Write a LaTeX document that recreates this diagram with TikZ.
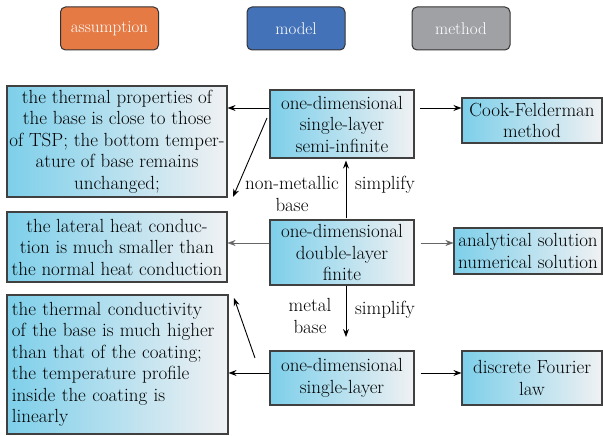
\documentclass[tikz,border=0pt]{standalone}
\usetikzlibrary{arrows.meta,calc}
\definecolor{hdrorange}{HTML}{E57A44}
\definecolor{hdrblue}{HTML}{4472B8}
\definecolor{hdrgray}{HTML}{A0A1A5}
\definecolor{boxcyan}{HTML}{7DCFEA}
\definecolor{boxwhite}{HTML}{F0F1F3}
\begin{document}
\begin{tikzpicture}[x=1pt,y=-1pt,
  every node/.style={font=\fontsize{19}{21.5}\selectfont},
  hdr/.style={draw=black!80, line width=1pt, rounded corners=5pt, text=white,
    minimum width=98pt, minimum height=43pt, inner sep=0pt,
    font=\fontsize{17}{21}\selectfont},
  card/.style={draw=black!75, line width=1.1pt, left color=boxcyan,
    right color=boxwhite, inner sep=0pt, align=center},
  link/.style={-{Stealth[length=8pt,width=6pt]}, line width=0.9pt},
  faintlink/.style={-{Stealth[length=8pt,width=6pt]}, line width=0.5pt, draw=black!60},
  lbl/.style={inner sep=0pt, align=center}
]
\useasboundingbox (0,0) rectangle (603,436);

% column headers
\node[hdr, fill=hdrorange] (hA) at (109.5,28.5) {assumption};
\node[hdr, fill=hdrblue]   (hM) at (296,28.5) {model};
\node[hdr, fill=hdrgray]   (hT) at (461,28.5) {method};

% assumptions
\node[card, minimum width=220pt, minimum height=111pt] (L1) at (117,141.5)
  {the thermal properties of\\the base is close to those\\of TSP; the bottom temper-\\ature of base remains\\unchanged;};
\node[card, minimum width=220pt, minimum height=70pt] (L2) at (117,247)
  {the lateral heat conduc-\\tion is much smaller than\\the normal heat conduction};
\node[card, minimum width=221pt, minimum height=139pt, align=left,
  text width=211pt] (L3) at (117.5,364.5)
  {the thermal conductivity\\of the base is much higher\\than that of the coating;\\the temperature profile\\inside the coating is\\linearly};

% models
\node[card, minimum width=144pt, minimum height=68pt] (M1) at (342,124)
  {one-dimensional\\single-layer\\semi-infinite};
\node[card, minimum width=144pt, minimum height=65pt] (M2) at (342,252.5)
  {one-dimensional\\double-layer\\finite};
\node[card, minimum width=144pt, minimum height=54pt] (M3) at (342,378)
  {one-dimensional\\single-layer};

% methods
\node[card, minimum width=140pt, minimum height=45pt] (T1) at (532,120.5)
  {Cook-Felderman\\method};
\node[card, minimum width=148pt, minimum height=46pt] (T2) at (528,251)
  {analytical solution\\numerical solution};
\node[card, minimum width=140pt, minimum height=54pt] (T3) at (532,378)
  {discrete Fourier\\law};

% horizontal connectors
\draw[link] ([yshift=16pt]M1.west) -- ([yshift=16pt]M1.west -| L1.east);
\draw[link, shorten <=5pt] ([yshift=16pt]M1.east) -- ([yshift=16pt]M1.east -| T1.west);
\draw[faintlink] ([yshift=9.5pt]M2.west) -- ([yshift=9.5pt]M2.west -| L2.east);
\draw[faintlink, shorten <=6pt] ([yshift=9.5pt]M2.east) -- ([yshift=9.5pt]M2.east -| T2.west);
\draw[link] ([yshift=5pt]M3.west) -- ([yshift=5pt]M3.west -| L3.east);
\draw[link, shorten <=6pt] ([yshift=5pt]M3.east) -- ([yshift=5pt]M3.east -| T3.west);

% simplification paths
\coordinate (d1s) at (267,118);
\coordinate (d1e) at (233,197);
\draw[link] (d1s) -- (d1e);
\coordinate (d2s) at (255,358);
\coordinate (d2e) at (234,298);
\draw[link] (d2s) -- (d2e);

\draw[link, shorten <=1pt, shorten >=2pt] ([xshift=4pt]M2.north) -- ([xshift=4pt]M1.south);
\coordinate (downtip) at (346,337);
\draw[link] ([xshift=4pt]M2.south) -- (downtip);

\node[lbl] (nm) at (292,194) {non-metallic\\base};
\node[lbl] (s1) at (385,185) {simplify};
\node[lbl] (mb) at (310,316) {metal\\base};
\node[lbl] (s2) at (385,310) {simplify};
\end{tikzpicture}
\end{document}
